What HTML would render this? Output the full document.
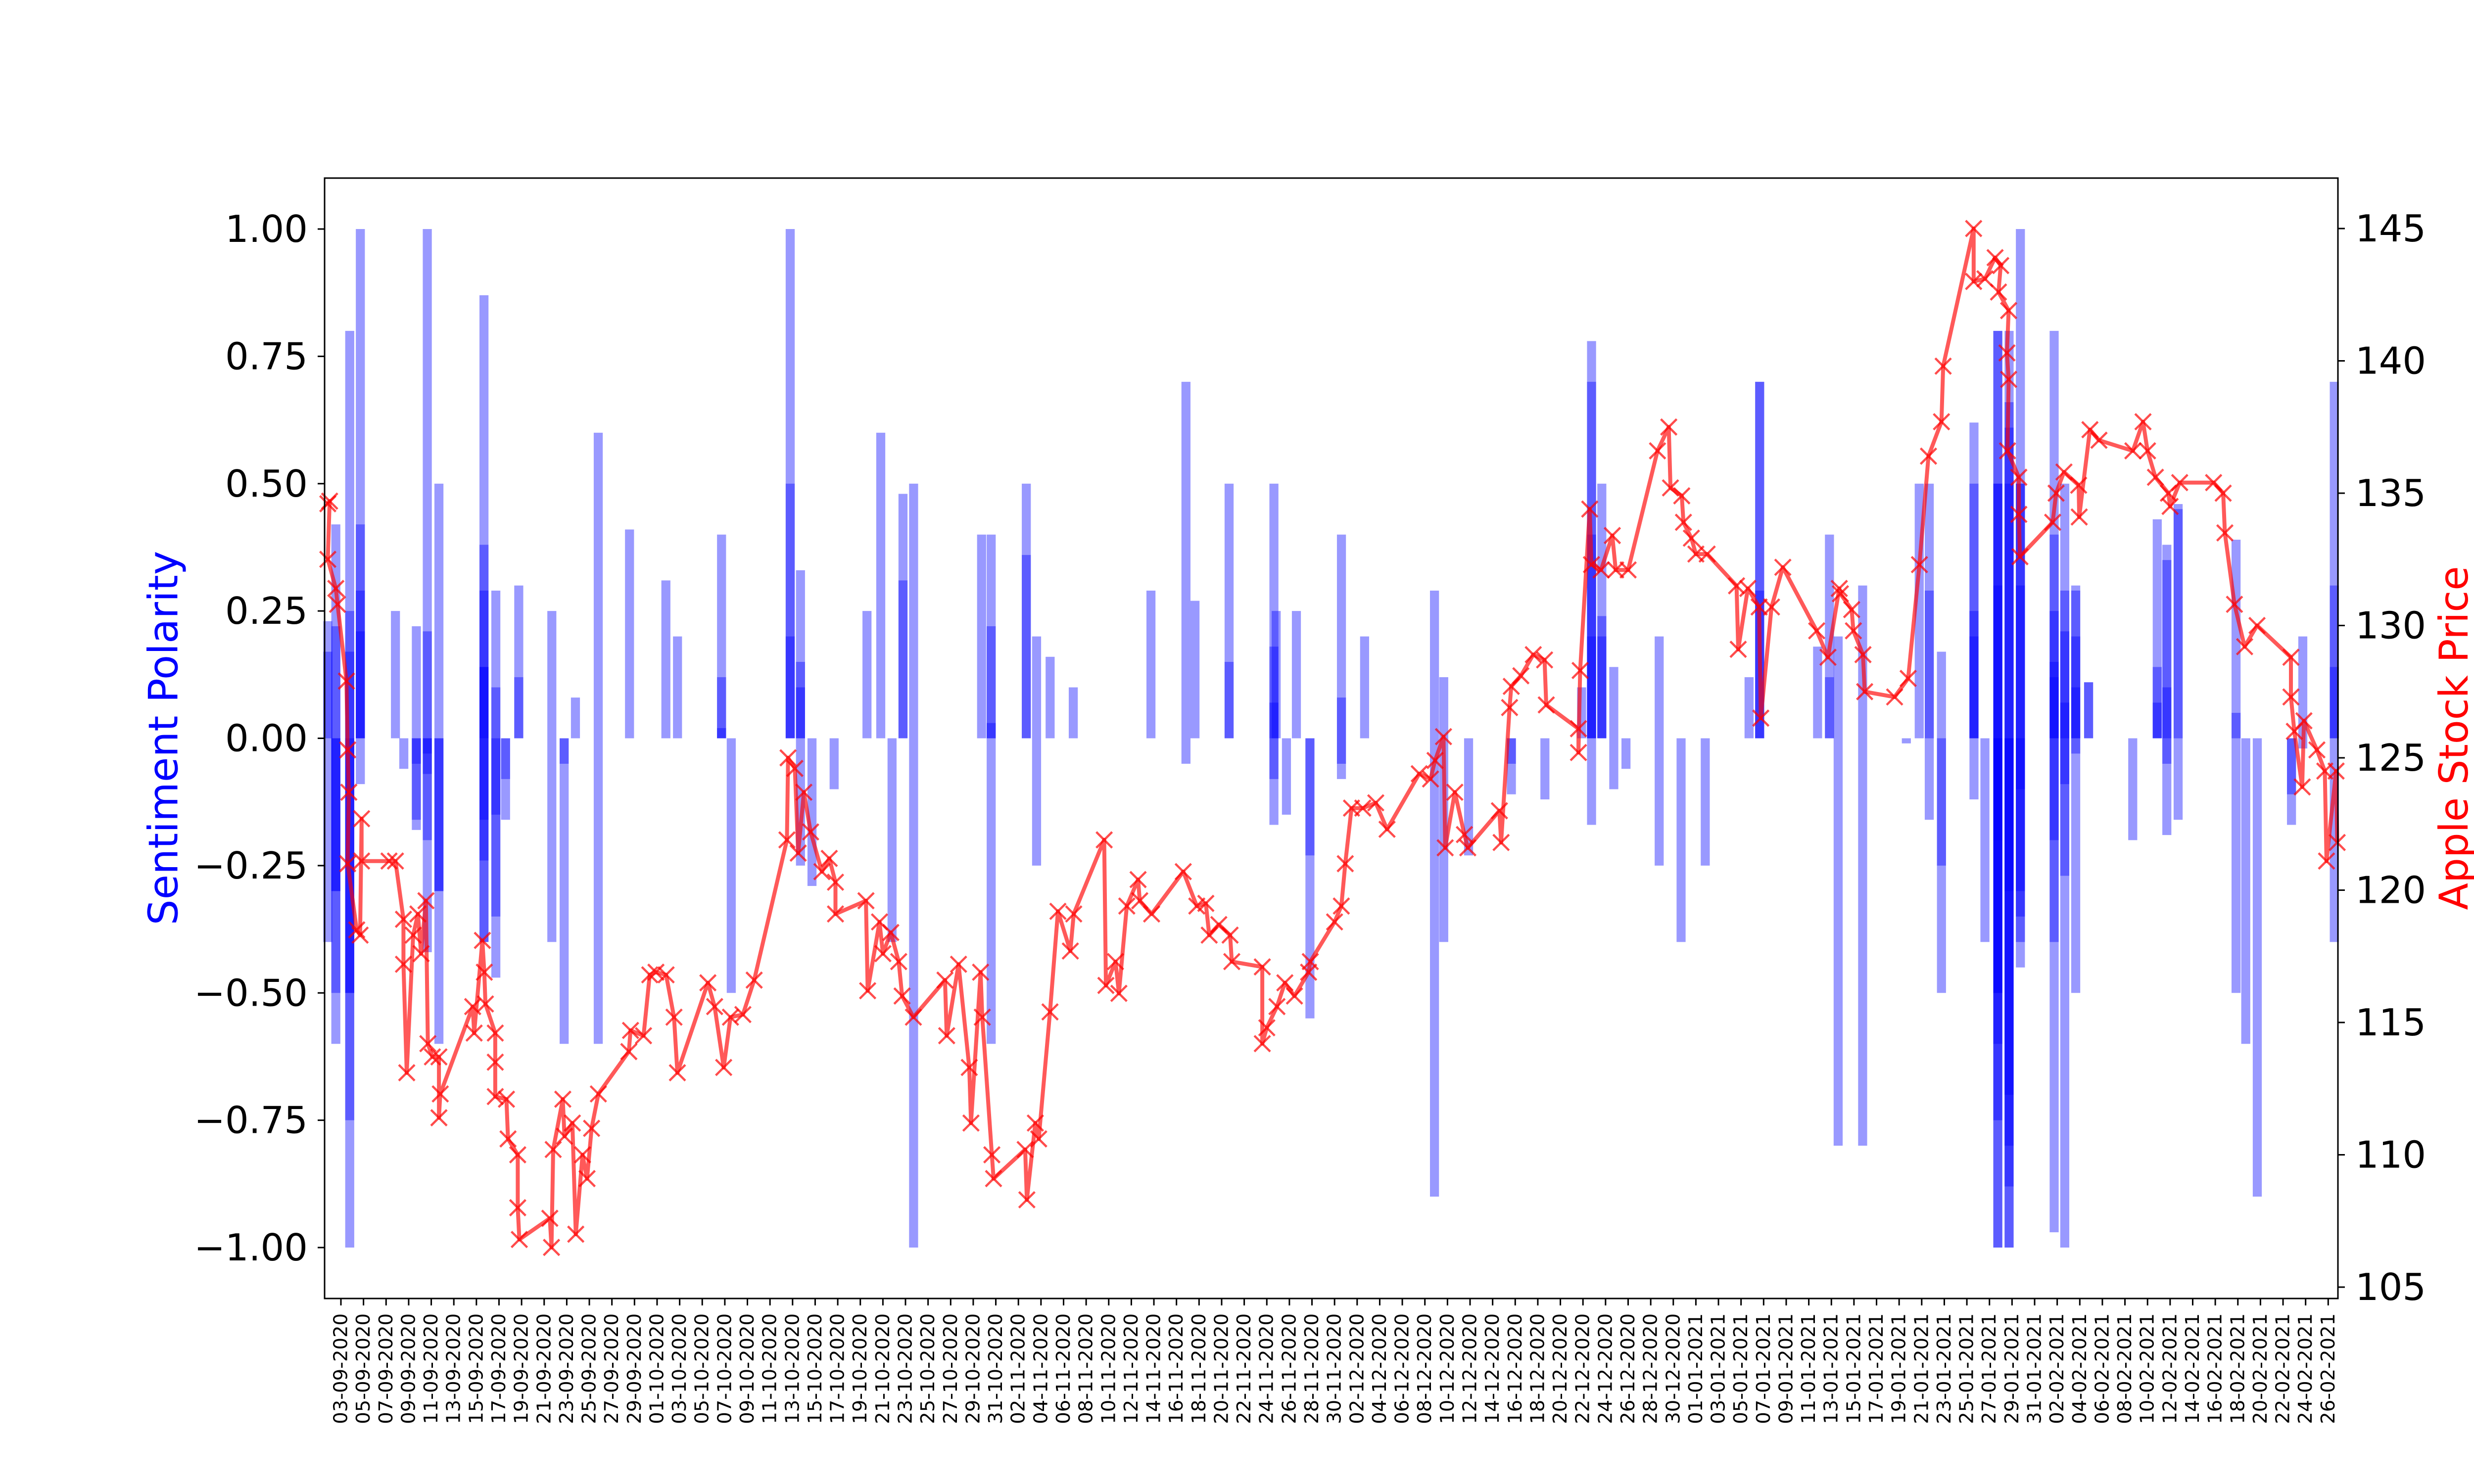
<!DOCTYPE html>
<html><head><meta charset="utf-8"><title>Sentiment vs Apple Stock Price</title>
<style>
html,body{margin:0;padding:0;background:#fff;}
svg{display:block;font-family:"DejaVu Sans","Liberation Sans",sans-serif;}
</style></head>
<body>
<svg id="chart" width="5250" height="3000" viewBox="0 0 5250 3000" xmlns="http://www.w3.org/2000/svg">
<rect x="0" y="0" width="5250" height="3000" fill="#fff"/>
<g id="bars"></g>
<g id="line"></g>
<g id="axes"></g>
<text x="336" y="1492" transform="rotate(-90 336 1492)" text-anchor="middle" dominant-baseline="middle" font-size="82" fill="#0000ff">Sentiment Polarity</text>
<text x="4965" y="1492" transform="rotate(-90 4965 1492)" text-anchor="middle" dominant-baseline="middle" font-size="80" fill="#ff0000">Apple Stock Price</text>
</svg>
<script>
// day offsets relative to 03-09-2020
const barDays = [-1.16,-1.16,-1.16,
 -0.45,-0.45,-0.45,-0.45,-0.45,-0.45,
 0.78,0.78,0.78,0.78,0.78,0.78,0.78,
 1.72,1.72,1.72,1.72,1.72,
 4.83,5.57,
 6.68,6.68,6.68,6.68,
 7.65,7.65,7.65,7.65,7.65,7.65,
 8.68,8.68,8.68,8.68,
 12.67,12.67,12.67,12.67,12.67,12.67,12.67,12.67,12.67,
 13.72,13.72,13.72,13.72,13.72,
 14.58,14.58,
 15.75,15.75,
 18.68,18.68,
 19.77,19.77,
 20.77,
 22.79,22.79,
 25.56,28.78,29.81,
 33.71,33.71,33.71,
 34.57,
 39.79,39.79,39.79,
 40.70,40.70,40.70,40.70,
 41.72,
 43.68,46.59,47.81,48.81,
 49.78,49.78,
 50.72,50.72,
 56.74,
 57.59,57.59,57.59,57.59,
 60.70,60.70,
 61.61,61.61,
 62.81,64.86,71.74,
 74.84,74.84,
 75.64,
 78.66,78.66,
 82.63,82.63,82.63,82.63,82.63,
 82.83,83.74,84.62,
 85.82,85.82,
 88.61,88.61,88.61,88.61,
 90.66,
 96.85,96.85,
 97.67,97.67,
 99.87,
 103.66,103.66,
 106.63,109.88,
 110.76,110.76,110.76,110.76,110.76,
 111.67,111.67,111.67,
 112.73,112.73,
 113.81,
 116.75,116.75,
 118.69,120.83,124.71,
 125.65,125.65,125.65,
 130.78,
 131.83,131.83,
 132.6,132.6,
 134.77,134.77,
 138.64,139.78,
 140.67,140.67,140.67,
 141.75,141.75,141.75,
 144.63,144.63,144.63,144.63,144.63,
 145.6,
 146.74,146.74,146.74,146.74,146.74,146.74,146.74,146.74,146.74,146.74,146.74,146.74,
 147.74,147.74,147.74,147.74,147.74,147.74,147.74,147.74,147.74,147.74,
 148.74,148.74,148.74,148.74,148.74,148.74,148.74,148.74,148.74,
 151.73,151.73,151.73,151.73,151.73,151.73,151.73,151.73,
 152.67,152.67,152.67,152.67,152.67,152.67,152.67,
 153.64,153.64,153.64,153.64,153.64,153.64,
 154.78,154.78,
 158.69,
 160.86,160.86,160.86,
 161.71,161.71,161.71,161.71,161.71,
 162.71,162.71,162.71,
 167.84,167.84,167.84,
 168.7,169.72,
 172.75,172.75,
 173.75,173.75,
 176.54,176.54,176.54,176.54];
const barValues = [0.23,0.17,-0.40,
 0.42,0.22,-0.30,-0.50,-0.60,-0.30,
 0.80,0.25,0.17,-0.50,-0.50,-0.75,-1.00,
 1.00,0.42,0.29,0.21,-0.09,
 0.25,-0.06,
 0.22,-0.05,-0.16,-0.18,
 1.00,0.21,-0.03,-0.07,-0.20,-0.42,
 0.50,-0.30,-0.60,-0.30,
 0.87,0.38,0.29,0.14,0.14,-0.16,-0.24,-0.40,-0.40,
 0.29,0.10,-0.15,-0.35,-0.47,
 -0.08,-0.16,
 0.30,0.12,
 0.25,-0.40,
 -0.05,-0.60,
 0.08,
 0.60,-0.60,
 0.41,0.31,0.20,
 0.40,0.12,0.02,
 -0.50,
 1.00,0.50,0.20,
 0.33,0.15,0.10,-0.25,
 -0.29,
 -0.10,0.25,0.60,-0.40,
 0.48,0.31,
 0.50,-1.00,
 0.40,
 0.40,0.22,0.03,-0.60,
 0.50,0.36,
 0.20,-0.25,
 0.16,0.10,0.29,
 0.70,-0.05,
 0.27,
 0.50,0.15,
 0.50,0.18,0.07,-0.08,-0.17,
 0.25,-0.15,0.25,
 -0.23,-0.55,
 0.40,0.08,-0.05,-0.08,
 0.20,
 0.29,-0.90,
 0.12,-0.40,
 -0.23,
 -0.05,-0.11,
 -0.12,0.10,
 0.78,0.70,0.40,0.20,-0.17,
 0.50,0.24,0.20,
 0.14,-0.10,
 -0.06,
 0.20,-0.25,
 -0.40,-0.25,0.12,
 0.70,0.70,0.29,
 0.18,
 0.40,0.12,
 0.20,-0.80,
 0.30,-0.80,
 -0.01,0.50,
 0.50,0.29,-0.16,
 0.17,-0.25,-0.50,
 0.62,0.50,0.25,0.20,-0.12,
 -0.40,
 0.80,0.80,0.50,0.50,0.30,-0.20,-0.50,-0.50,-0.60,-0.75,-1.00,-1.00,
 0.80,0.66,0.61,0.50,-0.30,-0.70,-0.80,-0.88,-1.00,-1.00,
 1.00,0.50,0.50,0.30,-0.10,-0.30,-0.35,-0.40,-0.45,
 0.80,0.40,0.25,0.15,0.12,-0.20,-0.40,-0.97,
 0.50,0.29,0.21,0.07,-0.09,-0.27,-1.00,
 0.30,0.29,0.20,0.10,-0.03,-0.50,
 0.11,0.11,
 -0.20,
 0.43,0.14,0.07,
 0.38,0.35,0.10,-0.05,-0.19,
 0.46,0.45,-0.16,
 0.39,0.05,-0.50,
 -0.60,-0.90,
 -0.11,-0.17,
 0.20,-0.02,
 0.70,0.30,0.14,-0.40];
const priceDays = [-1.16,-1.0,-1.16,-0.45,-0.3,0.49,0.6,0.7,0.6,1.4,1.7,1.83,1.83,4.26,4.83,5.54,5.54,5.83,6.4,6.82,7.1,7.53,7.7,8.1,8.68,8.68,8.8,11.67,11.8,12.53,12.7,12.8,13.67,13.67,13.67,14.66,14.8,15.66,15.66,15.8,18.5,18.65,18.8,19.65,19.8,20.5,20.8,21.4,21.8,22.2,22.8,25.5,25.65,26.8,27.35,27.9,28.8,29.5,29.8,32.5,33.1,33.9,34.5,35.6,36.6,39.5,39.6,40.2,40.5,41.0,41.6,42.6,43.25,43.8,43.8,46.5,46.65,47.7,48.0,48.7,49.4,49.7,50.7,53.5,53.65,54.7,55.65,55.8,56.65,56.8,57.65,57.8,60.6,60.75,61.5,61.8,62.8,63.5,64.6,64.9,67.6,67.75,68.6,68.9,69.6,70.6,70.75,71.8,74.6,75.8,76.6,76.9,77.75,78.75,78.9,81.6,81.6,82.0,82.9,83.6,84.45,85.7,85.85,88.0,88.6,88.95,89.5,90.5,91.65,92.65,95.5,96.5,96.9,97.65,97.8,98.65,99.5,99.8,102.6,102.75,103.5,103.65,104.5,105.6,106.6,106.75,109.6,109.6,109.75,110.6,110.75,111.6,112.6,112.9,114.0,116.6,117.6,117.75,118.75,118.9,119.6,120.0,121.0,123.6,123.75,124.6,125.6,125.75,126.7,127.7,130.7,131.7,132.7,132.8,133.8,133.95,134.8,134.95,137.6,138.8,139.8,140.6,141.75,141.9,144.6,144.6,145.6,146.5,147.0,146.8,147.7,147.55,147.7,147.6,148.6,148.6,148.7,151.6,151.9,152.6,153.9,153.95,154.9,155.7,158.7,159.6,160.0,160.7,161.85,162.0,162.85,165.85,166.7,166.85,167.7,168.6,169.7,172.7,172.7,173.0,173.7,173.85,175.0,175.7,175.85,176.7,176.8];
const priceValues = [134.6,134.7,132.5,131.4,130.8,127.9,125.3,123.7,121.0,118.5,118.3,122.7,121.1,121.1,121.1,118.9,117.2,113.1,118.3,119.1,117.6,119.6,114.2,113.7,113.7,111.4,112.3,115.6,114.6,118.1,116.9,115.7,114.6,113.5,112.2,112.1,110.6,110.0,108.0,106.8,107.6,106.5,110.2,112.1,110.7,111.2,107.0,110.0,109.1,111.0,112.3,113.9,114.7,114.5,116.8,116.9,116.8,115.2,113.1,116.5,115.6,113.3,115.2,115.3,116.6,121.9,125.0,124.6,121.4,123.7,122.2,120.7,121.2,120.3,119.1,119.6,116.2,118.8,117.6,118.4,117.3,116.0,115.2,116.6,114.5,117.2,113.3,111.2,116.9,115.2,110.0,109.1,110.2,108.3,111.2,110.6,115.4,119.2,117.7,119.1,121.9,116.4,117.3,116.1,119.4,120.4,119.6,119.1,120.7,119.4,119.5,118.3,118.7,118.3,117.3,117.1,114.2,114.8,115.6,116.5,116.0,116.9,117.3,118.8,119.4,121.0,123.1,123.1,123.3,122.3,124.4,124.2,124.9,125.8,121.6,123.7,122.1,121.6,123.0,121.8,126.9,127.7,128.1,128.9,128.7,127.0,126.1,125.2,128.3,134.4,132.3,132.1,133.4,132.1,132.1,136.6,137.5,135.2,134.9,133.9,133.3,132.7,132.7,131.5,129.1,131.4,130.7,126.5,130.7,132.2,129.8,128.8,131.4,131.2,130.6,129.8,128.9,127.5,127.3,128.0,132.3,136.4,137.7,139.8,145.0,143.0,143.1,143.9,143.6,142.6,141.9,140.3,139.3,136.6,135.6,134.2,132.6,133.9,135.0,135.8,135.3,134.1,137.4,137.0,136.6,137.7,136.6,135.6,135.0,134.5,135.4,135.4,135.0,133.5,130.8,129.2,130.0,128.8,127.3,126.0,123.9,126.4,125.3,124.5,121.1,124.5,121.8];
const leftTicks = [-1.00,-0.75,-0.50,-0.25,0.00,0.25,0.50,0.75,1.00];
const leftTickLabels = ["\u22121.00","\u22120.75","\u22120.50","\u22120.25","0.00","0.25","0.50","0.75","1.00"];
const rightTicks = [105,110,115,120,125,130,135,140,145];
const rightTickLabels = ["105","110","115","120","125","130","135","140","145"];

const NS="http://www.w3.org/2000/svg";
const L=656,R=4725,T=360,B=2625;
const X=d=>689+22.82*d;
const YL=v=>1492.5-1029.5*v;
const YR=p=>2602-53.5*(p-105);
function mk(tag,attrs,parent){const e=document.createElementNS(NS,tag);for(const k in attrs)e.setAttribute(k,attrs[k]);parent.appendChild(e);return e;}

const gb=document.getElementById('bars');
for(let i=0;i<barDays.length;i++){
  const v=barValues[i];const y0=YL(0),y1=YL(v);
  const r=mk('rect',{x:X(barDays[i]-0.4),y:Math.min(y0,y1),width:0.8*22.82,height:Math.max(1,Math.abs(y1-y0)),fill:'#0000ff','fill-opacity':0.4},gb);
  
  
}
const gl=document.getElementById('line');
let pts=priceDays.map((d,i)=>X(d).toFixed(1)+','+YR(priceValues[i]).toFixed(1)).join(' ');
const pl=mk('polyline',{points:pts,fill:'none',stroke:'#ff0000','stroke-opacity':0.65,'stroke-width':8,'stroke-linejoin':'round'},gl);


for(let i=0;i<priceDays.length;i++){
  const x=X(priceDays[i]),y=YR(priceValues[i]),s=16;
  const m=mk('path',{d:`M${x-s},${y-s}L${x+s},${y+s}M${x-s},${y+s}L${x+s},${y-s}`,stroke:'#ff0000','stroke-opacity':0.7,'stroke-width':4.5,fill:'none'},gl);
  
  
}
const ga=document.getElementById('axes');
const fr=mk('rect',{x:L,y:T,width:R-L,height:B-T,fill:'none',stroke:'#000','stroke-width':3},ga);


leftTicks.forEach((v,i)=>{
  const y=YL(v);
  const t=mk('line',{x1:L-14,x2:L,y1:y,y2:y,stroke:'#000','stroke-width':3},ga);
  
  
  const tx=mk('text',{x:622,y:y,'text-anchor':'end','dominant-baseline':'central','font-size':75,fill:'#000'},ga);
  tx.textContent=leftTickLabels[i];
  
  
});
rightTicks.forEach((p,i)=>{
  const y=YR(p);
  const t=mk('line',{x1:R,x2:R+14,y1:y,y2:y,stroke:'#000','stroke-width':3},ga);
  
  
  const tx=mk('text',{x:4760,y:y,'text-anchor':'start','dominant-baseline':'central','font-size':75,fill:'#000'},ga);
  tx.textContent=rightTickLabels[i];
  
  
});
// x tick labels every 2 days from 03-09-2020
const xTickLabels=[];
{const dt=new Date(Date.UTC(2020,8,3));for(let k=0;k<=88;k++){const dd=String(dt.getUTCDate()).padStart(2,'0'),mm=String(dt.getUTCMonth()+1).padStart(2,'0');xTickLabels.push(dd+'-'+mm+'-'+dt.getUTCFullYear());dt.setUTCDate(dt.getUTCDate()+2);}}
xTickLabels.forEach((lab,k)=>{
  const x=X(2*k);
  const t=mk('line',{x1:x,x2:x,y1:B,y2:B+14,stroke:'#000','stroke-width':3},ga);
  
  
  const tx=mk('text',{x:x,y:2655,'text-anchor':'end','dominant-baseline':'central','font-size':38.5,fill:'#000',transform:`rotate(-90 ${x} 2655)`},ga);
  tx.textContent=lab;
  
  
});
</script>
</body></html>
